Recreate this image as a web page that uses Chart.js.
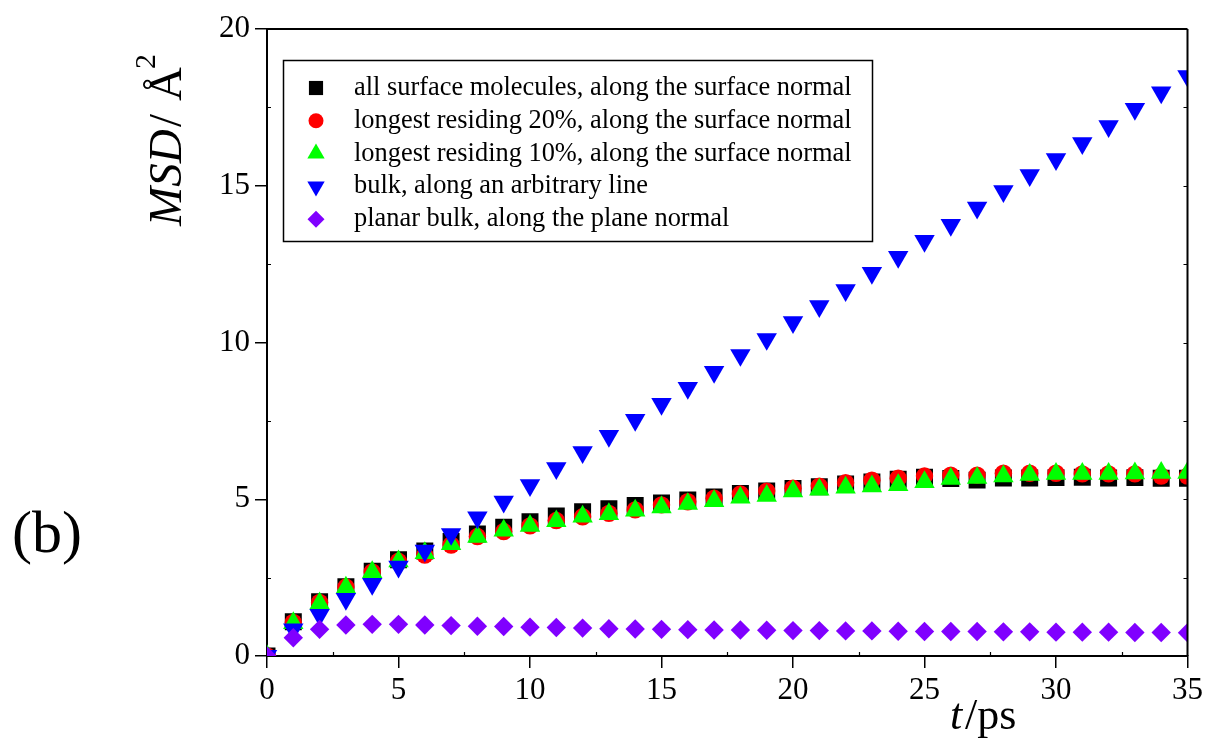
<!DOCTYPE html>
<html>
<head>
<meta charset="utf-8">
<script src="https://cdn.jsdelivr.net/npm/chart.js@4.4.1/dist/chart.umd.min.js"></script>
<style>
  html, body { margin: 0; padding: 0; background: #ffffff; }
  #wrap { width: 1207px; height: 745px; position: relative; }
</style>
</head>
<body>
<div id="wrap"><canvas id="msd" width="1207" height="745"></canvas></div>
<script>
// Time axis (ps)
const times = [0, 1, 2, 3, 4, 5, 6, 7, 8, 9, 10, 11, 12, 13, 14, 15, 16, 17, 18,
  19, 20, 21, 22, 23, 24, 25, 26, 27, 28, 29, 30, 31, 32, 33, 34, 35];

// MSD series (Å^2)
const allSurface = [0, 1.09, 1.73, 2.21, 2.70, 3.07, 3.35, 3.65, 3.89, 4.11, 4.28, 4.47,
  4.60, 4.70, 4.80, 4.88, 4.98, 5.07, 5.18, 5.26, 5.34, 5.40, 5.49, 5.55, 5.64, 5.70,
  5.66, 5.61, 5.68, 5.68, 5.69, 5.70, 5.68, 5.69, 5.67, 5.67];
const residing20 = [0, 1.07, 1.71, 2.20, 2.68, 3.02, 3.22, 3.54, 3.81, 3.97, 4.15, 4.32,
  4.44, 4.55, 4.66, 4.82, 4.92, 5.03, 5.17, 5.26, 5.35, 5.42, 5.53, 5.61, 5.67, 5.74,
  5.77, 5.77, 5.83, 5.83, 5.83, 5.81, 5.81, 5.81, 5.74, 5.74];
const residing10 = [0, 1.05, 1.68, 2.18, 2.68, 3.02, 3.28, 3.57, 3.80, 4.00, 4.15, 4.30,
  4.45, 4.53, 4.64, 4.74, 4.85, 4.94, 5.05, 5.11, 5.25, 5.31, 5.37, 5.41, 5.45, 5.55,
  5.65, 5.68, 5.73, 5.78, 5.81, 5.81, 5.81, 5.83, 5.84, 5.84];
const bulk = [0, 0.85, 1.31, 1.82, 2.30, 2.85, 3.36, 3.89, 4.42, 4.92, 5.45, 5.99,
  6.50, 7.02, 7.53, 8.04, 8.55, 9.06, 9.60, 10.11, 10.65, 11.16, 11.67, 12.22, 12.73,
  13.24, 13.75, 14.30, 14.83, 15.34, 15.85, 16.36, 16.90, 17.45, 17.98, 18.50];
const planarBulk = [0, 0.58, 0.85, 0.99, 1.01, 1.01, 0.99, 0.97, 0.95, 0.94, 0.92, 0.91,
  0.89, 0.87, 0.86, 0.85, 0.84, 0.83, 0.83, 0.82, 0.81, 0.81, 0.80, 0.80, 0.79, 0.78,
  0.78, 0.78, 0.77, 0.77, 0.76, 0.76, 0.76, 0.75, 0.75, 0.74];

const seriesLabels = [
  'all surface molecules, along the surface normal',
  'longest residing 20%, along the surface normal',
  'longest residing 10%, along the surface normal',
  'bulk, along an arbitrary line',
  'planar bulk, along the plane normal'
];

const xTickValues = [0, 5, 10, 15, 20, 25, 30, 35];
const yTickValues = [0, 5, 10, 15, 20];

const SERIF = "'Liberation Serif', 'Times New Roman', serif";

function points(values) {
  return times.map((t, i) => ({ x: t, y: values[i] }));
}

function series(label, values, color, style, radius, rotation, order) {
  return {
    label: label,
    data: points(values),
    showLine: false,
    backgroundColor: color,
    borderColor: color,
    pointBackgroundColor: color,
    pointBorderColor: color,
    pointBorderWidth: 0,
    pointStyle: style,
    pointRadius: radius,
    pointRotation: rotation,
    order: order,
    clip: 0
  };
}

const datasets = [
  series(seriesLabels[0], allSurface, '#000000', 'rect', 12, 0, 5),
  series(seriesLabels[1], residing20, '#ff0000', 'circle', 8.7, 0, 4),
  series(seriesLabels[2], residing10, '#00ff00', 'triangle', 11.8, 0, 3),
  series(seriesLabels[3], bulk, '#0000ff', 'triangle', 11.8, 180, 2),
  series(seriesLabels[4], planarBulk, '#8000ff', 'rectRot', 9.7, 0, 1)
];

// Box frame: top line, right line with inward ticks, and minor ticks
const frame = {
  id: 'frame',
  afterDatasetsDraw(chart) {
    const { ctx, chartArea: a, scales: { x, y } } = chart;
    ctx.save();
    ctx.strokeStyle = '#000';
    ctx.lineWidth = 2;
    ctx.beginPath();
    ctx.moveTo(a.left, a.top); ctx.lineTo(a.right, a.top);
    ctx.moveTo(a.right, a.top); ctx.lineTo(a.right, a.bottom);
    ctx.stroke();
    ctx.lineWidth = 1.2;
    ctx.beginPath();
    for (let v = 2.5; v < 20; v += 2.5) {
      const py = Math.round(y.getPixelForValue(v)) + 0.5;
      ctx.moveTo(a.right, py); ctx.lineTo(a.right - 4, py);
      if (v % 5 !== 0) { ctx.moveTo(a.left, py); ctx.lineTo(a.left + 4, py); }
    }
    for (let v = 2.5; v < 35; v += 5) {
      const px = Math.round(x.getPixelForValue(v)) + 0.5;
      ctx.moveTo(px, a.bottom); ctx.lineTo(px, a.bottom - 4);
    }
    ctx.stroke();
    ctx.restore();
  }
};

// Legend box with symbols
const legendBox = {
  id: 'legendBox',
  afterDraw(chart) {
    const ctx = chart.ctx;
    const L = 283, T = 60, R = 872, B = 241;
    ctx.save();
    ctx.fillStyle = '#fff';
    ctx.fillRect(L, T, R - L, B - T);
    ctx.strokeStyle = '#000';
    ctx.lineWidth = 1.5;
    ctx.strokeRect(L + 0.5, T + 0.5, R - L, B - T);
    const sizes = [10, 7.5, 10, 10, 8.5];
    chart.data.datasets.forEach((ds, i) => {
      const cy = 88 + i * 32.8;
      ctx.fillStyle = ds.pointBackgroundColor;
      Chart.helpers.drawPoint(ctx, {
        pointStyle: ds.pointStyle, radius: sizes[i], rotation: ds.pointRotation, borderWidth: 0
      }, 316, cy);
      ctx.fillStyle = '#000';
      ctx.font = '26.4px ' + SERIF;
      ctx.textAlign = 'left';
      ctx.textBaseline = 'alphabetic';
      ctx.fillText(ds.label, 354, cy + 7);
    });
    ctx.restore();
  }
};

// Axis titles and panel tag
const titles = {
  id: 'titles',
  afterDraw(chart) {
    const ctx = chart.ctx;
    ctx.save();
    ctx.fillStyle = '#000';
    ctx.textBaseline = 'alphabetic';
    ctx.textAlign = 'left';

    // y title, reading upward
    ctx.save();
    ctx.translate(181, 226);
    ctx.rotate(-Math.PI / 2);
    ctx.font = 'italic 47px ' + SERIF;
    ctx.fillText('MSD', 0, 0);
    ctx.font = '47px ' + SERIF;
    ctx.fillText('/', 99, 0);
    ctx.fillText('Å', 125, 0);
    ctx.font = '30px ' + SERIF;
    ctx.fillText('2', 157, -26);
    ctx.restore();

    // x title
    ctx.font = 'italic 44px ' + SERIF;
    ctx.fillText('t', 950, 729);
    ctx.font = '44px ' + SERIF;
    ctx.fillText('/ps', 965, 729);

    // panel tag
    ctx.font = '60px ' + SERIF;
    ctx.fillText('(b)', 12, 552);
    ctx.restore();
  }
};

new Chart(document.getElementById('msd'), {
  type: 'scatter',
  data: { datasets: datasets },
  options: {
    responsive: false,
    devicePixelRatio: 1,
    animation: false,
    events: [],
    layout: { padding: { top: 29, right: 18, left: 0, bottom: 0 } },
    plugins: { legend: { display: false }, tooltip: { enabled: false } },
    scales: {
      x: {
        type: 'linear',
        position: 'bottom',
        min: 0,
        max: 35,
        afterFit: s => { s.height = 89; },
        afterBuildTicks: s => { s.ticks = xTickValues.map(v => ({ value: v })); },
        ticks: {
          color: '#000',
          font: { family: SERIF, size: 31 },
          padding: 4,
          maxRotation: 0,
          autoSkip: false
        },
        grid: { drawOnChartArea: false, drawTicks: true, tickLength: 12, color: '#000', lineWidth: 1.5 },
        border: { display: true, color: '#000', width: 2 }
      },
      y: {
        type: 'linear',
        position: 'left',
        min: 0,
        max: 20,
        afterFit: s => { s.width = 267; },
        afterBuildTicks: s => { s.ticks = yTickValues.map(v => ({ value: v })); },
        ticks: {
          color: '#000',
          font: { family: SERIF, size: 31 },
          padding: 5,
          autoSkip: false
        },
        grid: { drawOnChartArea: false, drawTicks: true, tickLength: 12, color: '#000', lineWidth: 1.5 },
        border: { display: true, color: '#000', width: 2 }
      }
    }
  },
  plugins: [frame, legendBox, titles]
});
</script>
</body>
</html>
